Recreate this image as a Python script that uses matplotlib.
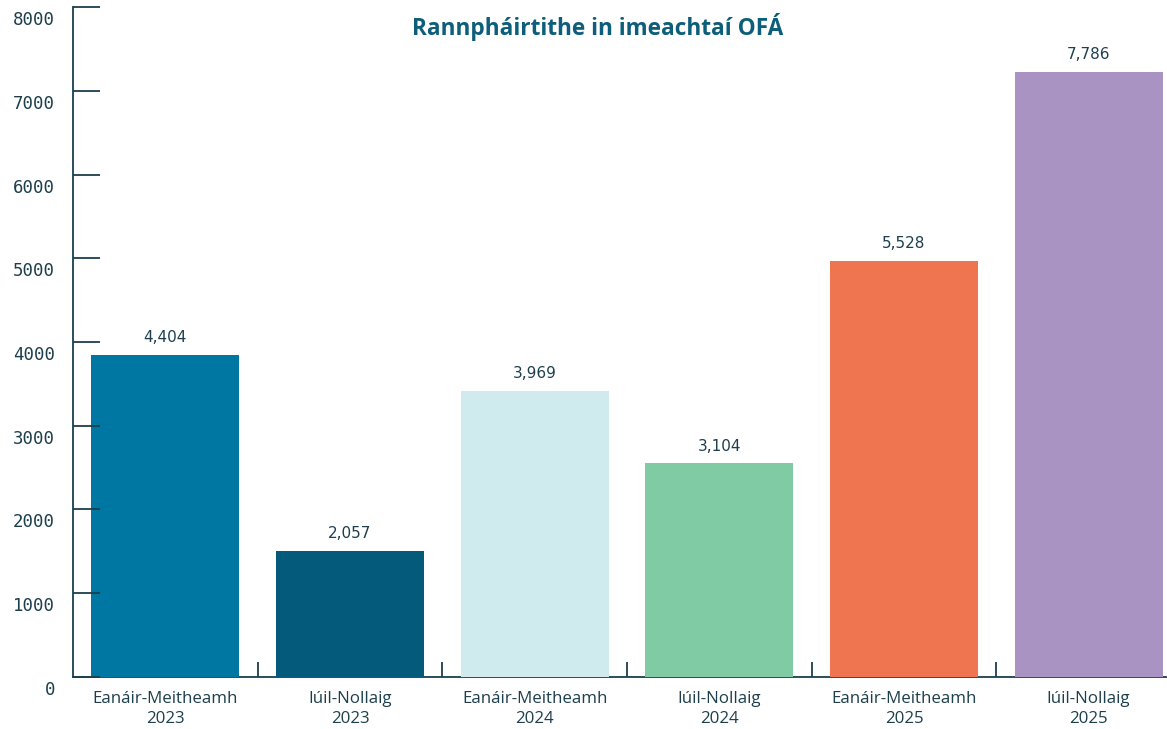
import matplotlib.pyplot as plt
import matplotlib.transforms as mtransforms

categories = [
    "Eanáir-Meitheamh\n2023",
    "Iúil-Nollaig\n2023",
    "Eanáir-Meitheamh\n2024",
    "Iúil-Nollaig\n2024",
    "Eanáir-Meitheamh\n2025",
    "Iúil-Nollaig\n2025",
]
participants = [4404, 2057, 3969, 3104, 5528, 7786]
bar_colors = ["#0077a3", "#045a7a", "#cfebed", "#80caa4", "#ee7550", "#a993c2"]
scale_ticks = [0, 1000, 2000, 3000, 4000, 5000, 6000, 7000, 8000]

title = "Rannpháirtithe in imeachtaí OFÁ"

# the bars in the source sit on a range that starts above the drawn scale
bar_base = 555
span = 8000

ink = "#1d3f4d"
title_color = "#0d5e7a"

fig = plt.figure(figsize=(11.67, 7.29), dpi=100)
left_px, right_px, bottom_px, top_px = 73, 1181, 676.7, 7.3
ax = fig.add_axes([left_px / 1167, (729 - bottom_px) / 729,
                   (right_px - left_px) / 1167, (bottom_px - top_px) / 729])

x = list(range(len(categories)))
bars = ax.bar(x, participants, width=0.8, color=bar_colors, zorder=3)
ax.set_xlim(-0.5, len(categories) - 0.5)
ax.set_ylim(bar_base, bar_base + span)

for b, v in zip(bars, participants):
    ax.annotate(f"{v:,}", (b.get_x() + b.get_width() / 2, b.get_height()),
                xytext=(0, 7), textcoords="offset points", ha="center", va="bottom",
                fontsize=11, color=ink, family="DejaVu Sans")

# spines / ticks
for side in ["top", "right"]:
    ax.spines[side].set_visible(False)
for side in ["left", "bottom"]:
    ax.spines[side].set_color(ink)
    ax.spines[side].set_linewidth(1.3)

ax.set_xticks(x)
ax.set_xticklabels(categories, fontsize=12.2, color=ink, family="Open Sans", linespacing=1.4)
ax.tick_params(axis="x", which="major", length=0, pad=10)
ax.set_xticks([i + 0.5 for i in x], minor=True)
ax.tick_params(axis="x", which="minor", direction="in", length=11, width=1.3, color=ink)

# visible scale drawn on its own axes, same box
scale = fig.add_axes(ax.get_position(), sharex=ax, frameon=False)
scale.set_ylim(0, span)
scale.set_yticks(scale_ticks)
scale.set_yticklabels([])
scale.tick_params(axis="y", direction="in", length=19.5, width=1.3, color=ink)
scale.tick_params(axis="x", which="both", bottom=False, labelbottom=False)
ax.set_yticks([])

lab_tr = mtransforms.blended_transform_factory(scale.transAxes, scale.transData) + \
    mtransforms.ScaledTranslation(-0.18, -0.13, fig.dpi_scale_trans)
for t in scale_ticks:
    scale.text(0, t, str(t), transform=lab_tr, ha="right", va="center",
               fontsize=12.5, color=ink, family="DejaVu Sans Mono", clip_on=False)

fig.text(598 / 1167, 1 - 27 / 729, title, ha="center", va="center",
         fontsize=16.3, fontweight="bold", color=title_color, family="Open Sans")

fig.savefig("out.png", dpi=100)
